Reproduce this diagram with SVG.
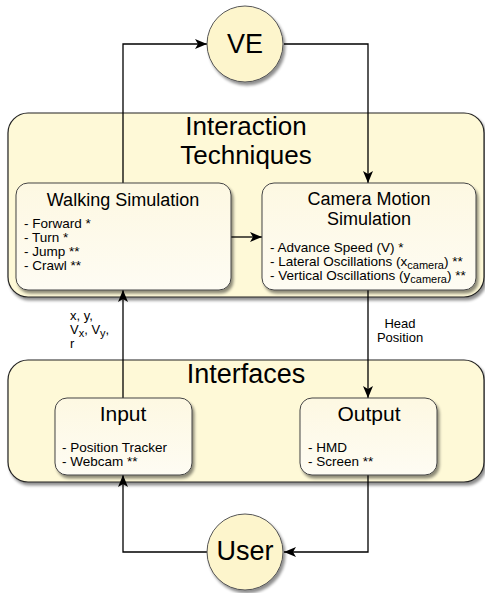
<svg xmlns="http://www.w3.org/2000/svg" width="485" height="593" viewBox="0 0 485 593">
<defs>
<filter id="sh" x="-10%" y="-10%" width="120%" height="125%">
<feGaussianBlur in="SourceAlpha" stdDeviation="1.5"/>
<feOffset dx="2" dy="3" result="b"/>
<feComponentTransfer><feFuncA type="linear" slope="0.45"/></feComponentTransfer>
<feMerge><feMergeNode/><feMergeNode in="SourceGraphic"/></feMerge>
</filter>
<linearGradient id="ig" x1="0" y1="0" x2="0" y2="1">
<stop offset="0" stop-color="#fdf8e2"/>
<stop offset="1" stop-color="#fefcf3"/>
</linearGradient>
<marker id="ar" viewBox="0 0 12 10" refX="12" refY="5" markerWidth="12" markerHeight="10" markerUnits="userSpaceOnUse" orient="auto">
<path d="M0,0 L12,5 L0,10 L3,5 Z" fill="#000"/>
</marker>
<style>
.outer{fill:#fef9d7;stroke:#222;stroke-width:1.2}
.inner{fill:url(#ig);stroke:#444;stroke-width:1}
.circ{fill:#fdf5cc;stroke:#555;stroke-width:1}
.c{fill:none;stroke:#000;stroke-width:1.3}
text{font-family:"Liberation Sans",Arial,sans-serif;fill:#000}
.big{font-size:27px;text-anchor:middle}
.mid{font-size:18px;text-anchor:middle}
.io{font-size:21px;text-anchor:middle}
.sm{font-size:13.5px}
.lb{font-size:13px}
</style>
</defs>

<g id="interaction-techniques">
<rect class="outer" x="8" y="113" width="476" height="184" rx="20" filter="url(#sh)"/>
<text class="big" x="246" y="135" style="font-size:26px">Interaction</text>
<text class="big" x="246" y="164" style="font-size:26px">Techniques</text>
</g>

<g id="interfaces">
<rect class="outer" x="8" y="360" width="476" height="122" rx="20" filter="url(#sh)"/>
<text class="big" x="246" y="383">Interfaces</text>
</g>

<g id="connectors">
<path class="c" d="M123,183 V44 H207" marker-end="url(#ar)"/>
<path class="c" d="M284,44 H368 V183" marker-end="url(#ar)"/>
<path class="c" d="M231,237 H262" marker-end="url(#ar)"/>
<path class="c" d="M123,398 V290" marker-end="url(#ar)"/>
<path class="c" d="M368,290 V398" marker-end="url(#ar)"/>
<path class="c" d="M208,552 H123 V475" marker-end="url(#ar)"/>
<path class="c" d="M368,475 V552 H284" marker-end="url(#ar)"/>
</g>

<g id="ve">
<circle class="circ" cx="245" cy="44" r="38" filter="url(#sh)"/>
<text class="big" x="245" y="53">VE</text>
</g>

<g id="walking-simulation">
<rect class="inner" x="16" y="183" width="215" height="107" rx="12" filter="url(#sh)"/>
<text class="mid" x="123" y="206">Walking Simulation</text>
<text class="sm" x="24" y="228">- Forward *</text>
<text class="sm" x="24" y="242">- Turn *</text>
<text class="sm" x="24" y="256">- Jump **</text>
<text class="sm" x="24" y="270">- Crawl **</text>
</g>

<g id="camera-motion-simulation">
<rect class="inner" x="262" y="183" width="214" height="107" rx="12" filter="url(#sh)"/>
<text class="mid" x="369" y="205">Camera Motion</text>
<text class="mid" x="369" y="225">Simulation</text>
<text class="sm" x="270" y="252">- Advance Speed (V) *</text>
<text class="sm" x="270" y="266">- Lateral Oscillations (x<tspan font-size="11" dy="3">camera</tspan><tspan dy="-3">) **</tspan></text>
<text class="sm" x="270" y="280">- Vertical Oscillations (y<tspan font-size="11" dy="3">camera</tspan><tspan dy="-3">) **</tspan></text>
</g>

<g id="input">
<rect class="inner" x="55" y="398" width="137" height="77" rx="12" filter="url(#sh)"/>
<text class="io" x="123" y="421">Input</text>
<text class="sm" x="62" y="452">- Position Tracker</text>
<text class="sm" x="62" y="466">- Webcam **</text>
</g>

<g id="output">
<rect class="inner" x="300" y="398" width="137" height="77" rx="12" filter="url(#sh)"/>
<text class="io" x="369" y="421">Output</text>
<text class="sm" x="308" y="452">- HMD</text>
<text class="sm" x="308" y="466">- Screen **</text>
</g>

<g id="user">
<circle class="circ" cx="245" cy="552" r="38" filter="url(#sh)"/>
<text class="big" x="245" y="560">User</text>
</g>

<g id="labels">
<text class="lb" x="70" y="320">x, y,</text>
<text class="lb" x="70" y="334">V<tspan font-size="11" dy="3">x</tspan><tspan dy="-3">, V</tspan><tspan font-size="11" dy="3">y</tspan><tspan dy="-3">,</tspan></text>
<text class="lb" x="70" y="348">r</text>
<text class="lb" x="400" y="328" text-anchor="middle">Head</text>
<text class="lb" x="400" y="342" text-anchor="middle">Position</text>
</g>
</svg>
